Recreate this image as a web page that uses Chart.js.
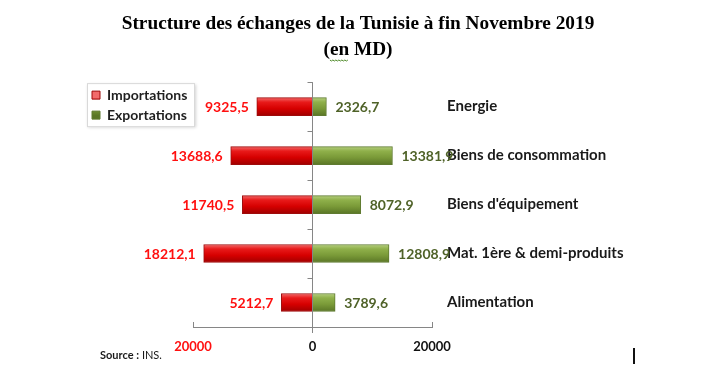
<!DOCTYPE html>
<html>
<head>
<meta charset="utf-8">
<script src="https://cdn.jsdelivr.net/npm/chart.js@4/dist/chart.umd.min.js"></script>
<style>
  html, body { margin: 0; padding: 0; background: #ffffff; }
  #wrap { width: 701px; height: 386px; position: relative; }
</style>
</head>
<body>
<div id="wrap"><canvas id="c" width="701" height="386"></canvas></div>
<script>
// ---- data ----
const categories = ['Energie', 'Biens de consommation', "Biens d'équipement", 'Mat. 1ère & demi-produits', 'Alimentation'];
const importations = [9325.5, 13688.6, 11740.5, 18212.1, 5212.7];
const exportations = [2326.7, 13381.9, 8072.9, 12808.9, 3789.6];
const xTickValues = [-20000, 0, 20000];
const titleLines = ['Structure des échanges de la Tunisie à fin Novembre 2019', '(en MD)'];
const seriesNames = ['Importations', 'Exportations'];
const sourceText = ['Source :', ' INS.'];

const FONT = 'Lato, "Open Sans", sans-serif';
const TITLE_FONT = '"Liberation Serif", "Times New Roman", serif';
const TITLE_SIZE = 19.3;
const BAR_T = 18;

function gradFill(stops, solid) {
  return function (ctx) {
    const chart = ctx.chart;
    if (ctx.type !== 'data' || !chart.scales || !chart.scales.y) return solid;
    const yc = chart.scales.y.getPixelForValue(ctx.dataIndex);
    if (!isFinite(yc)) return solid;
    const g = chart.ctx.createLinearGradient(0, yc - BAR_T / 2, 0, yc + BAR_T / 2);
    stops.forEach(s => g.addColorStop(s[0], s[1]));
    return g;
  };
}

const fmt = v => Math.abs(v).toFixed(1).replace('.', ',');

const extras = {
  id: 'extras',
  afterInit(chart) {
    const lg = chart.legend;
    if (lg) {
      const f = lg.fit.bind(lg);
      lg.fit = function () { f(); this.width = 107; };
    }
  },
  beforeDraw(chart) {
    const c = chart.ctx;
    const lg = chart.legend;
    if (lg && lg.legendHitBoxes && lg.legendHitBoxes.length) {
      const hb = lg.legendHitBoxes;
      const top = hb[0].top - 5, bottom = hb[hb.length - 1].top + hb[hb.length - 1].height + 5;
      const left = 87, right = 195;
      c.save();
      c.shadowColor = 'rgba(0,0,0,0.18)';
      c.shadowBlur = 3; c.shadowOffsetX = 1; c.shadowOffsetY = 1;
      c.fillStyle = '#ffffff';
      c.fillRect(left, top, right - left, bottom - top);
      c.restore();
      c.save();
      c.strokeStyle = '#d9d9d9'; c.lineWidth = 1;
      c.strokeRect(left + 0.5, top + 0.5, right - left - 1, bottom - top - 1);
      c.restore();
    }
  },
  afterDatasetsDraw(chart) {
    const c = chart.ctx;
    const x = chart.scales.x, y = chart.scales.y;
    const x0 = x.getPixelForValue(0);
    c.save();
    // tick marks on the zero line at category boundaries
    c.strokeStyle = '#868686'; c.lineWidth = 1;
    for (let i = 0; i <= categories.length; i++) {
      const yy = Math.round(y.getPixelForValue(i - 0.5)) + 0.5;
      c.beginPath(); c.moveTo(x0 - 5, yy); c.lineTo(x0, yy); c.stroke();
    }
    // upward end ticks on the x axis
    const yb = chart.chartArea.bottom;
    [xTickValues[0], xTickValues[xTickValues.length - 1]].forEach(v => {
      const xx = Math.round(x.getPixelForValue(v)) + 0.5;
      c.beginPath(); c.moveTo(xx, yb - 5); c.lineTo(xx, yb); c.stroke();
    });
    // value labels
    c.font = 'bold 14px ' + FONT;
    c.textBaseline = 'middle';
    chart.data.datasets.forEach((ds, di) => {
      const meta = chart.getDatasetMeta(di);
      meta.data.forEach((bar, i) => {
        const v = ds.data[i];
        if (v < 0) {
          c.fillStyle = '#ff1010'; c.textAlign = 'right';
          c.fillText(fmt(v), bar.x - 8, bar.y + 1);
        } else {
          c.fillStyle = '#4f6228'; c.textAlign = 'left';
          c.fillText(fmt(v), bar.x + 9, bar.y + 1);
        }
      });
    });
    c.restore();
  },
  afterDraw(chart) {
    const c = chart.ctx;
    c.save();
    c.textBaseline = 'middle'; c.textAlign = 'left'; c.fillStyle = '#1a1a1a';
    c.font = 'bold 11px ' + FONT;
    c.fillText(sourceText[0], 100, 355);
    const w = c.measureText(sourceText[0]).width;
    c.font = '11px ' + FONT;
    c.fillText(sourceText[1], 100 + w, 355);
    c.fillStyle = '#111111';
    c.fillRect(633, 348, 2, 16);
    // spell-check style wavy underline under "en" of the subtitle line
    const t = chart.titleBlock;
    if (t) {
      c.font = 'bold ' + TITLE_SIZE + 'px ' + TITLE_FONT;
      const line = titleLines[1];
      const full = c.measureText(line).width;
      const pre = c.measureText('(').width;
      const enW = c.measureText('(en').width - pre;
      const cx = (t.left + t.right) / 2;
      const sx = cx - full / 2 + pre;
      const sy = 60;
      c.strokeStyle = '#4f8a2a'; c.lineWidth = 1;
      c.beginPath();
      for (let k = 0; k <= enW; k += 1.5) {
        const yy = sy + ((Math.round(k / 1.5) % 2) ? 1 : -0);
        if (k === 0) c.moveTo(sx + k, yy); else c.lineTo(sx + k, yy);
      }
      c.stroke();
    }
    c.restore();
  }
};

new Chart(document.getElementById('c'), {
  type: 'bar',
  data: {
    labels: categories,
    datasets: [
      {
        label: seriesNames[0],
        data: importations.map(v => -v),
        backgroundColor: gradFill([[0, '#f26b6b'], [0.25, '#e81a1a'], [0.6, '#d60000'], [1, '#a00000']], '#d60000'),
        borderColor: '#9e0b0b',
        borderWidth: 1,
        barThickness: BAR_T
      },
      {
        label: seriesNames[1],
        data: exportations,
        backgroundColor: gradFill([[0, '#b5cf7f'], [0.25, '#8fb04a'], [0.6, '#7a9a38'], [1, '#5a7626']], '#7a9a38'),
        borderColor: '#5f7a30',
        borderWidth: 1,
        barThickness: BAR_T
      }
    ]
  },
  options: {
    indexAxis: 'y',
    responsive: false,
    animation: false,
    layout: { padding: { left: 86, right: 71, top: 0, bottom: 0 } },
    plugins: {
      title: {
        display: true,
        text: titleLines,
        color: '#000000',
        font: { family: TITLE_FONT, size: TITLE_SIZE, weight: 'bold', lineHeight: 1.35 },
        padding: { top: 11, bottom: 19 }
      },
      legend: {
        display: true,
        position: 'left',
        align: 'start',
        fullSize: false,
        labels: {
          boxWidth: 8, boxHeight: 8, padding: 6,
          color: '#1f1f1f',
          font: { family: FONT, size: 14, weight: 'bold' }
        }
      },
      tooltip: { enabled: false }
    },
    scales: {
      x: {
        stacked: true,
        min: -20000, max: 20000,
        afterBuildTicks(s) { s.ticks = xTickValues.map(v => ({ value: v })); },
        afterFit(s) { s.height = 59; },
        ticks: {
          padding: 6,
          callback: v => String(Math.abs(v)),
          color: ctx => (ctx.tick && ctx.tick.value < 0) ? '#ff1010' : '#111111',
          font: { family: FONT, size: 13, weight: 'bold' },
          maxRotation: 0
        },
        grid: {
          color: ctx => (ctx.tick && ctx.tick.value === 0) ? '#868686' : 'rgba(0,0,0,0)',
          drawTicks: true,
          tickLength: 6
        },
        border: { display: true, color: '#868686' }
      },
      y: {
        stacked: true,
        position: 'right',
        afterFit(s) { s.width = 198; },
        ticks: {
          padding: 15,
          color: '#1a1a1a',
          font: { family: FONT, size: 15, weight: 'bold' }
        },
        grid: { display: false, drawTicks: false },
        border: { display: false }
      }
    }
  },
  plugins: [extras]
});
</script>
</body>
</html>
